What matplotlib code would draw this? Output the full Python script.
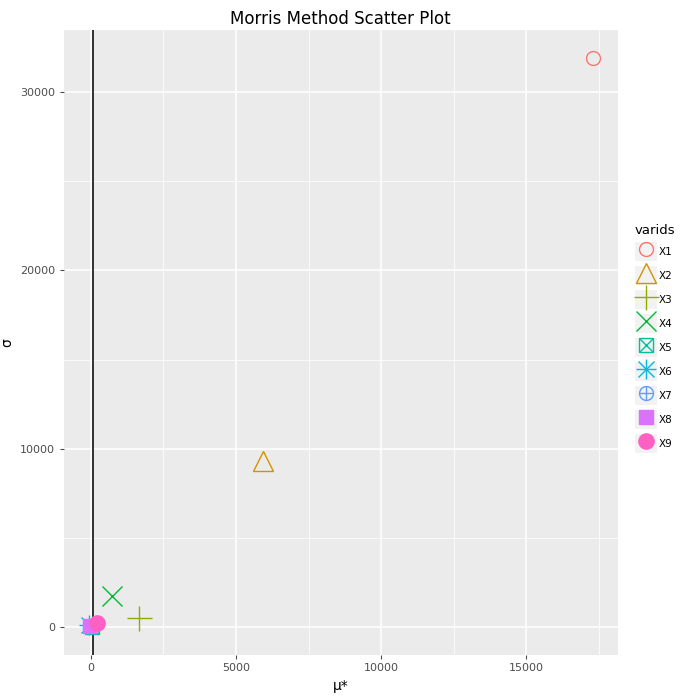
import numpy as np
import matplotlib
matplotlib.use('Agg')
import matplotlib.pyplot as plt
from matplotlib.patches import Rectangle
from matplotlib.lines import Line2D

# Morris screening results
varids = ['X1', 'X2', 'X3', 'X4', 'X5', 'X6', 'X7', 'X8', 'X9']
mu_star = [17310, 5930, 1655, 725, 30, -60, -40, -30, 210]
sigma = [31910, 9310, 505, 1740, 20, 100, 50, 40, 220]
vline_x = 60

colors = ['#F8766D', '#D39200', '#93AA00', '#00BA38', '#00C19F',
          '#00B9E3', '#619CFF', '#DB72FB', '#FF61C3']

# marker layers for each ggplot shape: (marker, size, filled)
shapes = [
    [('o', 10, False)],
    [('^', 15, False)],
    [('+', 18, False)],
    [('x', 14, False)],
    [('s', 10, False), ('x', 10, False)],
    [('+', 15, False), ('x', 11, False)],
    [('o', 10, False), ('+', 10, False)],
    [('s', 10, True)],
    [('o', 11, True)],
]

fig = plt.figure(figsize=(6.8, 6.99), dpi=100)
ax = fig.add_axes([0.094, 0.063, 0.815, 0.894])
ax.set_facecolor('#EBEBEB')
for s in ax.spines.values():
    s.set_visible(False)

ax.set_xlim(-930, 18170)
ax.set_ylim(-1570, 33480)
ax.set_xticks([0, 5000, 10000, 15000])
ax.set_yticks([0, 10000, 20000, 30000])
ax.set_xticks([2500, 7500, 12500, 17500], minor=True)
ax.set_yticks([5000, 15000, 25000], minor=True)
ax.grid(which='major', color='white', linewidth=1.1)
ax.grid(which='minor', color='white', linewidth=0.55)
ax.set_axisbelow(True)
ax.tick_params(which='major', colors='#4D4D4D', labelsize=8, length=3, width=0.8)
ax.tick_params(which='minor', length=0)
ax.tick_params(axis='x', pad=3)

ax.axvline(vline_x, color='black', linewidth=1.1, zorder=1.5)

handles = []
for i in range(len(varids)):
    layer = []
    for m, ms, filled in shapes[i]:
        ax.plot([mu_star[i]], [sigma[i]], linestyle='none', marker=m, markersize=ms,
                markerfacecolor=colors[i] if filled else 'none',
                markeredgecolor=colors[i], markeredgewidth=1.0, zorder=3)
        layer.append(Line2D([], [], linestyle='none', marker=m, markersize=ms,
                            markerfacecolor=colors[i] if filled else 'none',
                            markeredgecolor=colors[i], markeredgewidth=1.0))
    bg = Rectangle((0, 0), 1, 1, facecolor='#F2F2F2', edgecolor='none')
    handles.append(tuple([bg] + layer))

ax.set_xlabel('\u03bc*', fontsize=10, labelpad=4)
ax.set_ylabel('\u03c3', fontsize=10, labelpad=4)
fig.suptitle('Morris Method Scatter Plot', fontsize=12, y=0.985)

leg = fig.legend(handles, varids, title='varids', loc='upper left',
                 bbox_to_anchor=(0.926, 0.687), frameon=False, fontsize=7.5,
                 title_fontsize=9.5, handlelength=2.1, handleheight=2.4,
                 handletextpad=0.15, labelspacing=0.5, borderpad=0)
leg._legend_box.align = 'left'

fig.savefig('out.png', dpi=100)
